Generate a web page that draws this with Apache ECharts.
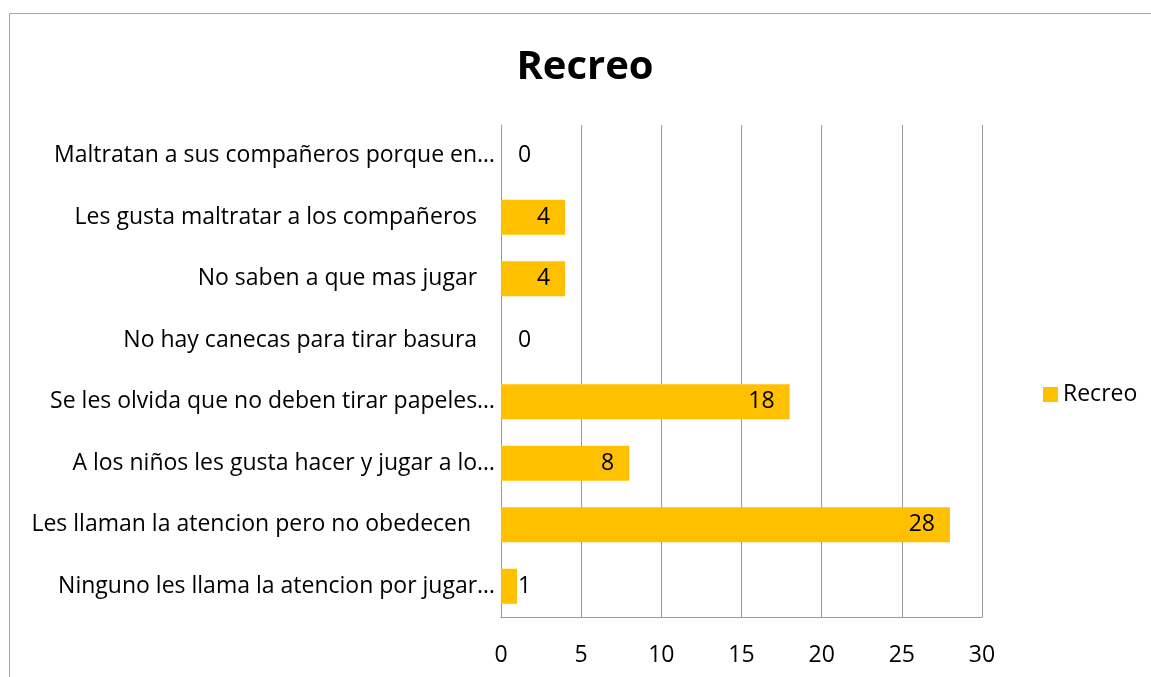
<!DOCTYPE html>
<html><head><meta charset="utf-8">
<script src="https://cdn.jsdelivr.net/npm/echarts@6/dist/echarts.min.js"></script>
<style>html,body{margin:0;padding:0;background:#fff}#c{width:1151px;height:677px}</style>
</head><body><div id="c"></div>
<script>
const categories = [
  "Maltratan a sus compañeros porque en…",
  "Les gusta maltratar a los compañeros   ",
  "No saben a que mas jugar   ",
  "No hay canecas para tirar basura   ",
  "Se les olvida que no deben tirar papeles…",
  "A los niños les gusta hacer y jugar a lo…",
  "Les llaman la atencion pero no obedecen    ",
  "Ninguno les llama la atencion por jugar…"
];
const values = [0, 4, 4, 0, 18, 8, 28, 1];
const xTicks = [0, 5, 10, 15, 20, 25, 30];
const seriesName = "Recreo";
const FONT = "Open Sans";
const FS = 23;

const chart = echarts.init(document.getElementById('c'), null, {renderer: 'canvas'});
const data = values.map(v => {
  let label;
  if (v === 0) label = {position: 'insideLeft', distance: 17};
  else if (v < 3) label = {position: 'right', distance: 1};
  else label = {position: 'insideRight', distance: 15};
  return {value: v, label};
});
chart.setOption({
  animation: false,
  textStyle: {fontFamily: FONT},
  title: {
    text: seriesName, left: 580, textAlign: 'center', top: 43,
    textStyle: {fontFamily: FONT, fontSize: 40, fontWeight: 'bold', color: '#000'}
  },
  graphic: [{
    type: 'rect', shape: {x: 9.5, y: 13.5, width: 1300, height: 800},
    style: {fill: 'none', stroke: '#a6a6a6', lineWidth: 1}, silent: true
  }],
  legend: {
    left: 1038, top: 378, itemWidth: 15, itemHeight: 15, itemGap: 7,
    icon: 'rect',
    textStyle: {fontFamily: FONT, fontSize: FS, color: '#000', padding: [0,0,0,0]},
    data: [seriesName]
  },
  grid: {left: 501, right: 169, top: 125, bottom: 60, containLabel: false},
  xAxis: {
    type: 'value', min: xTicks[0], max: xTicks[xTicks.length-1], interval: 5,
    axisLine: {show: true, lineStyle: {color: '#9a9a9a'}},
    axisTick: {show: false},
    splitLine: {show: true, lineStyle: {color: '#9a9a9a', width: 1}},
    axisLabel: {fontFamily: FONT, fontSize: FS, color: '#000', margin: 27}
  },
  yAxis: {
    type: 'category', data: categories, inverse: true,
    axisLine: {show: true, lineStyle: {color: '#9a9a9a'}},
    axisTick: {show: false},
    axisLabel: {fontFamily: FONT, fontSize: FS, color: '#000', margin: 6, padding: [6, 0, 0, 0]}
  },
  series: [{
    name: seriesName, type: 'bar', data: data, barCategoryGap: '43%',
    itemStyle: {color: '#FFC000'},
    label: {show: true, fontFamily: FONT, fontSize: FS, color: '#000', padding: [5, 0, 0, 0]}
  }]
});
</script></body></html>
